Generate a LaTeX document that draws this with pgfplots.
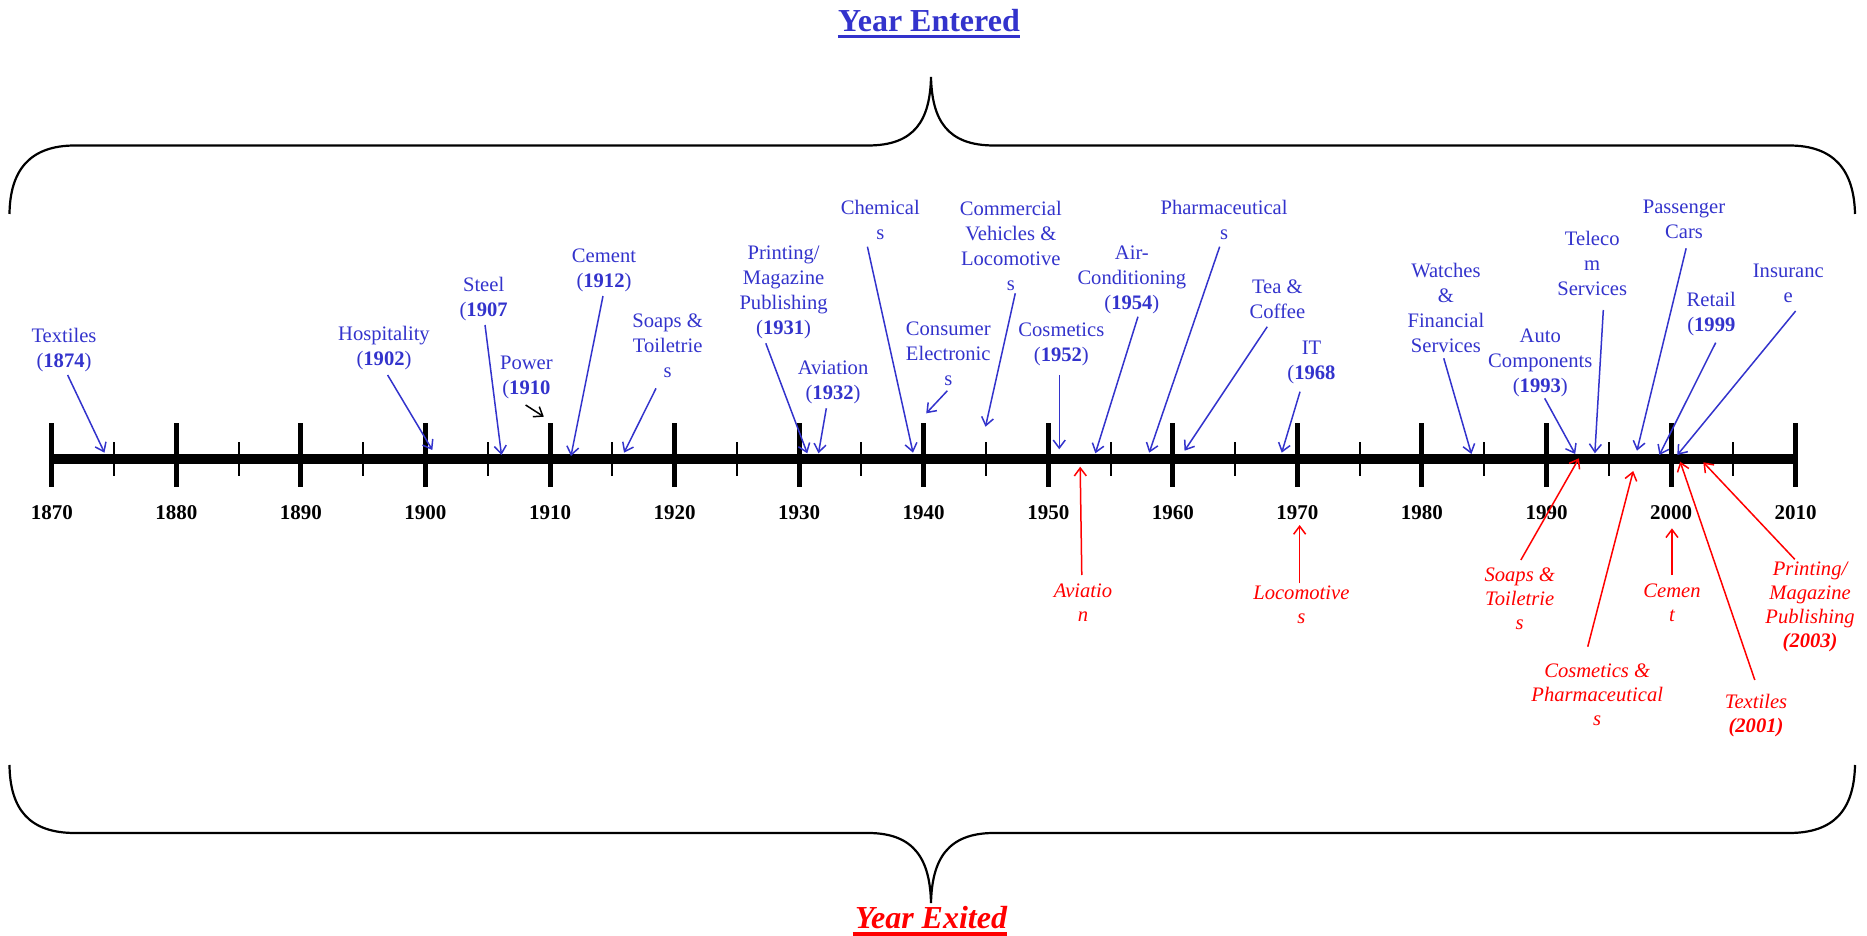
\documentclass[border=0pt]{standalone}
\usepackage{pgfplots}
\pgfplotsset{compat=1.18}
\usepackage{fontspec}
\setmainfont{Liberation Serif}
\usetikzlibrary{arrows.meta}
\definecolor{blueC}{RGB}{51,51,204}
\tikzset{
  bl/.style={text=blueC, align=center, font=\fontsize{10.3}{12.5}\selectfont, inner sep=0pt, yshift=-0.7pt},
  rl/.style={text=red, align=center, font=\fontsize{10.3}{12}\selectfont\itshape, inner sep=0pt, yshift=-0.5pt},
  yl/.style={font=\fontsize{10.5}{12}\selectfont\bfseries, inner sep=0pt},
}
\pgfplotsset{
  ba/.style={blueC, line width=0.75pt, -{Straight Barb[length=4pt,width=6pt]}},
  ra/.style={red, line width=0.75pt, -{Straight Barb[length=4pt,width=6pt]}},
}
\begin{document}
\begin{tikzpicture}
\begin{axis}[
  width=933.5pt, height=468pt, scale only axis, hide axis, clip=false,
  xmin=1865.841, xmax=2015.73, ymin=0, ymax=936, y dir=reverse,
]
% timeline
\addplot[black, line width=5pt] coordinates {(1870,458.5) (2010,458.5)};
\pgfplotsinvokeforeach{1870,1880,...,2010}{
  \addplot[black, line width=2.5pt] coordinates {(#1,423) (#1,487)};
  \node[yl] at (axis cs:#1,512.5) {#1};
}
\pgfplotsinvokeforeach{1875,1885,...,2005}{
  \addplot[black, line width=1pt] coordinates {(#1,442) (#1,476)};
}
% ---- entered (blue)
\node[bl] at (axis cs:1870.98,348.7) {Textiles\\(\textbf{1874})};
\addplot[ba] coordinates {(1871.27,375) (1874.23,452.7)};
\node[bl] at (axis cs:1896.67,346.5) {Hospitality\\(\textbf{1902})};
\addplot[ba] coordinates {(1896.96,375) (1900.55,450)};
\node[bl] at (axis cs:1904.67,297.7) {Steel\\(\textbf{1907}};
\addplot[ba] coordinates {(1904.78,325) (1906.10,455)};
\node[bl] at (axis cs:1908.10,375.7) {Power\\(\textbf{1910}};
\addplot[black, line width=0.75pt, -{Straight Barb[length=4pt,width=6pt]}] coordinates {(1908.04,405) (1909.50,416.7)};
\node[bl] at (axis cs:1914.33,268.5) {Cement\\(\textbf{1912})};
\addplot[ba] coordinates {(1914.25,296) (1911.68,456)};
\node[bl] at (axis cs:1919.44,344.3) {Soaps \&\\Toiletrie\\s};
\addplot[ba] coordinates {(1918.51,388.3) (1915.94,452.7)};
\node[bl] at (axis cs:1928.75,290.8) {Printing/\\Magazine\\Publishing\\(\textbf{1931})};
\addplot[ba] coordinates {(1927.32,343.3) (1930.65,453.3)};
\node[bl] at (axis cs:1932.72,380.8) {Aviation\\(\textbf{1932})};
\addplot[ba] coordinates {(1932.18,408.3) (1931.55,453.3)};
\node[bl] at (axis cs:1936.51,218.2) {Chemical\\s};
\addplot[ba] coordinates {(1935.48,246.7) (1939.14,452.7)};
\node[bl] at (axis cs:1941.97,352.7) {Consumer\\Electronic\\s};
\addplot[ba] coordinates {(1941.90,390.7) (1940.20,413.3)};
\node[bl] at (axis cs:1946.99,244.2) {Commercial\\Vehicles \&\\Locomotive\\s};
\addplot[ba] coordinates {(1947.35,293.3) (1944.96,426.7)};
\node[bl] at (axis cs:1951.05,343.3) {Cosmetics\\(\textbf{1952})};
\addplot[ba] coordinates {(1950.88,375) (1950.88,449.3)};
\node[bl] at (axis cs:1956.71,278.1) {Air-\\Conditioning\\(\textbf{1954})};
\addplot[ba] coordinates {(1957.20,316.7) (1953.78,453.3)};
\node[bl] at (axis cs:1964.11,218.2) {Pharmaceutical\\s};
\addplot[ba] coordinates {(1963.76,246.7) (1958.10,452.7)};
\node[bl] at (axis cs:1968.39,298) {Tea \&\\Coffee};
\addplot[ba] coordinates {(1967.58,326.7) (1960.94,450.7)};
\node[bl] at (axis cs:1971.13,361.3) {IT\\(\textbf{1968}};
\addplot[ba] coordinates {(1970.21,391.7) (1968.74,452.7)};
\node[bl] at (axis cs:1981.92,306.3) {Watches\\\&\\Financial\\Services};
\addplot[ba] coordinates {(1981.75,358.3) (1983.97,454)};
\node[bl] at (axis cs:1989.50,361.5) {Auto\\Components\\(\textbf{1993})};
\addplot[ba] coordinates {(1989.85,398.3) (1992.30,454)};
\node[bl] at (axis cs:1993.67,261.9) {Teleco\\m\\Services};
\addplot[ba] coordinates {(1994.56,310) (1993.88,453.3)};
\node[bl] at (axis cs:2001.04,217.5) {Passenger\\Cars};
\addplot[ba] coordinates {(2001.21,248.3) (1997.26,450.7)};
\node[bl] at (axis cs:2003.23,312.9) {Retail\\(\textbf{1999}};
\addplot[ba] coordinates {(2003.58,342.7) (1999.06,455)};
\node[bl] at (axis cs:2009.41,281.7) {Insuranc\\e};
\addplot[ba] coordinates {(2010.0,311) (2000.50,455)};
% ---- exited (red)
\node[rl] at (axis cs:1952.79,602) {Aviatio\\n};
\addplot[ra] coordinates {(1952.69,575) (1952.56,466.7)};
\node[rl] at (axis cs:1970.32,604.2) {Locomotive\\s};
\addplot[ra] coordinates {(1970.18,583.3) (1970.18,525)};
\node[rl] at (axis cs:1987.85,598) {Soaps \&\\Toiletrie\\s};
\addplot[ra] coordinates {(1987.94,560) (1992.60,458.3)};
\node[rl] at (axis cs:1994.07,694.2) {Cosmetics \&\\Pharmaceutical\\s};
\addplot[ra] coordinates {(1993.31,646.7) (1996.96,471)};
\node[rl] at (axis cs:2000.07,601.7) {Cemen\\t};
\addplot[ra] coordinates {(2000.07,575) (2000.07,528.3)};
\node[rl] at (axis cs:2006.82,714.2) {Textiles\\\textbf{(2001)}};
\addplot[ra] coordinates {(2006.72,680) (2000.73,461.7)};
\node[rl] at (axis cs:2011.16,606.3) {Printing/\\Magazine\\Publishing\\\textbf{(2003)}};
\addplot[ra] coordinates {(2009.93,559.3) (2002.59,462.3)};
\end{axis}
\begin{scope}[x=0.5pt, y=-0.5pt, yshift=468pt]
  \draw[line width=1.1pt] (9.5,214) .. controls (10,170) and (30,145.5) .. (75,145.5)
    -- (868,145.5) .. controls (915,145.5) and (930,120) .. (931,77)
    .. controls (932,120) and (947,145.5) .. (994,145.5)
    -- (1789,145.5) .. controls (1834,145.5) and (1854,170) .. (1855,214);
  \draw[line width=1.1pt] (9.5,765) .. controls (10,810) and (30,833) .. (75,833)
    -- (868,833) .. controls (915,833) and (930,860) .. (931,903)
    .. controls (932,860) and (947,833) .. (994,833)
    -- (1789,833) .. controls (1834,833) and (1854,810) .. (1855,765);
  \node[anchor=base, inner sep=0pt, text=blueC, font=\fontsize{16}{19}\selectfont\bfseries] (ye) at (929,31.5) {Year Entered};
  \draw[blueC, line width=1.75pt] ([yshift=-2.5pt]ye.base west) -- ([yshift=-2.5pt]ye.base east);
  \node[anchor=base, inner sep=0pt, text=red, font=\fontsize{16}{19}\selectfont\bfseries\itshape] (yx) at (931,928.3) {Year Exited};
  \draw[red, line width=1.9pt] ([yshift=-2.85pt,xshift=-1pt]yx.base west) -- ([yshift=-2.85pt]yx.base east);
\end{scope}
\pgfresetboundingbox
\path[use as bounding box] (0,0) rectangle (933.5pt,468pt);
\end{tikzpicture}
\end{document}
